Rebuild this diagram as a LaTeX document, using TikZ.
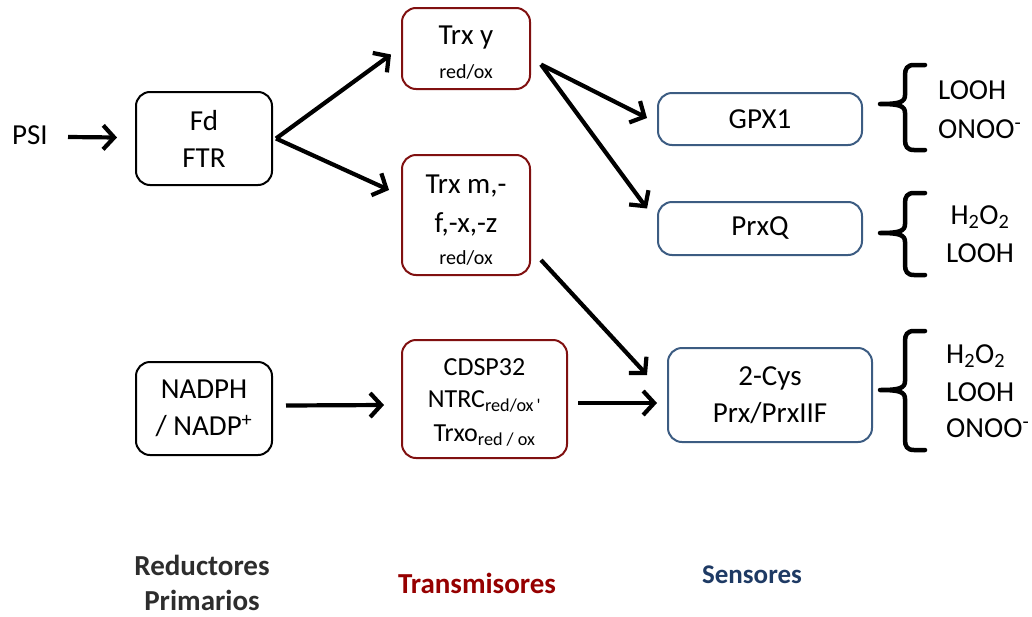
\documentclass[tikz,border=0pt]{standalone}
\usepackage{fontspec}
\setmainfont{Carlito}
\usetikzlibrary{arrows.meta,calc}

\definecolor{trred}{RGB}{128,16,16}
\definecolor{trlabel}{RGB}{150,0,0}
\definecolor{snblue}{RGB}{60,92,130}
\definecolor{snlabel}{RGB}{30,58,100}
\definecolor{rdgray}{RGB}{45,45,45}

\tikzset{
  box/.style={draw, line width=2pt, rounded corners=14pt, align=center,
    inner sep=0pt, font=\fontsize{29}{37}\selectfont},
  redbox/.style={box, draw=trred},
  bluebox/.style={box, draw=snblue},
  blackbox/.style={box, draw=black},
  arr/.style={line width=4.2pt, -{Straight Barb[length=11pt,width=24pt,line width=4.2pt]}},
  sm/.style={font=\fontsize{20}{24}\selectfont},
  txt/.style={inner sep=0pt, font=\fontsize{29}{37}\selectfont, align=center},
  species/.style={inner sep=0pt, font=\fontsize{29}{37}\selectfont, align=left, anchor=west},
  group/.style={inner sep=0pt, font=\bfseries\fontsize{29}{35}\selectfont, align=center},
}

% left brace with its tip at (x, mid), spanning top..bottom
\newcommand\sensorbrace[4]{%
  \draw[line width=4.5pt, line cap=round]
    (#1+45,#2) -- (#1+34,#2) .. controls (#1+27,#2) and (#1+25,#2+4) .. (#1+25,#2+10)
    -- (#1+25,#3-9) .. controls (#1+25,#3-2) and (#1+20,#3) .. (#1,#3)
    (#1,#3) .. controls (#1+20,#3) and (#1+25,#3+2) .. (#1+25,#3+9)
    -- (#1+25,#4-10) .. controls (#1+25,#4-4) and (#1+27,#4) .. (#1+34,#4) -- (#1+45,#4);}

\begin{document}
\begin{tikzpicture}[x=1pt, y=-1pt]
\useasboundingbox (0,0) rectangle (1032,616);

% primary reductants
\node[txt] (psi) at (30,135) {PSI};
\node[blackbox, minimum width=136pt, minimum height=93pt] (fd) at (204,138.5) {Fd\\FTR};
\node[blackbox, minimum width=136pt, minimum height=93pt] (nadph) at (204,408.5) {NADPH\\/ NADP\textsuperscript{+}};

% transmitters
\node[redbox, minimum width=128pt, minimum height=81pt] (trxy) at (466,48.5) {};
\node[txt] at (466,38) {Trx y};
\node[txt, sm] at (466,72) {red/ox};
\node[redbox, minimum width=128pt, minimum height=120pt] (trxm) at (466,215) {};
\node[txt] at (466,186) {Trx m,-};
\node[txt] at (466,224) {f,-x,-z};
\node[txt, sm] at (466,258) {red/ox};
\node[redbox, minimum width=165pt, minimum height=118pt] (cdsp) at (484.5,399) {};
\node[txt, font=\fontsize{26}{36}\selectfont] at (484.5,367) {CDSP32};
\node[txt, font=\fontsize{26}{36}\selectfont] at (484.5,401) {NTRC\textsubscript{red/ox\,\textquotesingle}};
\node[txt, font=\fontsize{26}{36}\selectfont] at (484.5,436) {Trxo\textsubscript{red / ox}};

% sensors
\node[bluebox, minimum width=204pt, minimum height=52pt] (gpx) at (760,119) {GPX1};
\node[bluebox, minimum width=204pt, minimum height=53pt] (prxq) at (760,228.5) {PrxQ};
\node[bluebox, minimum width=204pt, minimum height=94pt] (cys) at (770,395) {2-Cys\\Prx/PrxIIF};

% connectors
\draw[arr] ($(psi.east)+(20,2)$) -- ($(fd.west)+(-18,-1)$);
\draw[arr] ($(fd.east)+(3,0)$) -- ($(trxy.west)+(-10,6)$);
\draw[arr] ($(fd.east)+(3,0)$) -- ($(trxm.west)+(-12,-25)$);
\draw[arr] ($(trxy.east)+(10,16)$) -- ($(gpx.west)+(-10,-1)$);
\draw[arr] ($(trxy.east)+(10,16)$) -- ($(prxq.west)+(-10,-20)$);
\draw[arr] ($(trxm.east)+(10,45)$) -- ($(cys.west)+(-20,-20)$);
\draw[arr] ($(nadph.east)+(13,-3)$) -- ($(cdsp.west)+(-17,6)$);
\draw[arr] ($(cdsp.east)+(10,4)$) -- ($(cys.west)+(-10,8)$);

% reactive species
\sensorbrace{880}{65}{104}{150}
\node[species] (s1) at (938,90) {LOOH};
\node[species] (s2) at (938,129) {ONOO\textsuperscript{-}};
\sensorbrace{880}{193}{233}{275}
\node[txt] (s3) at (980,217) {H\textsubscript{2}O\textsubscript{2}};
\node[txt] (s4) at (980,253) {LOOH};
\sensorbrace{880}{331}{390}{450}
\node[species] (s5) at (946,356) {H\textsubscript{2}O\textsubscript{2}};
\node[species] (s6) at (946,392) {LOOH};
\node[species] (s7) at (946,428) {ONOO\textsuperscript{-}};

% column labels
\node[group, text=rdgray] (lred) at (202,583) {Reductores\\Primarios};
\node[group, text=trlabel] (ltr) at (477,583) {Transmisores};
\node[group, text=snlabel, font=\bfseries\fontsize{27}{34}\selectfont] (lsn) at (752,575) {Sensores};
\end{tikzpicture}
\end{document}
